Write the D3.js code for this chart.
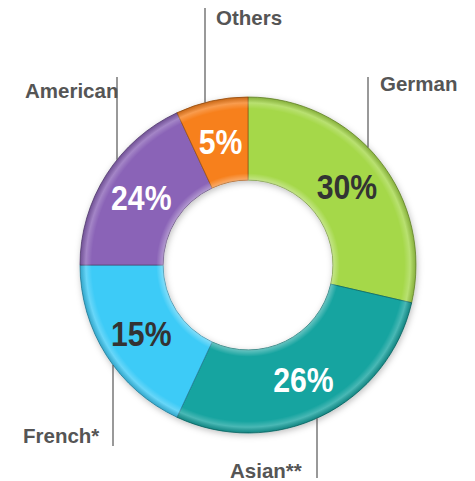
<!DOCTYPE html>
<html>
<head>
<meta charset="utf-8">
<script src="https://cdn.jsdelivr.net/npm/d3@7"></script>
<style>
  html, body { margin: 0; padding: 0; background: #fff; }
  svg { display: block; }
  .pct { font-family: "Liberation Sans", Arial, sans-serif; font-weight: bold; font-size: 36px; }
  .cat { font-family: "Liberation Sans", Arial, sans-serif; font-weight: bold; font-size: 20.5px; fill: #555; }
</style>
</head>
<body>
<svg id="chart" width="475" height="481"></svg>
<script>
const width = 475;
const height = 481;

// categories, clockwise from 12 o'clock
const categories = ["German", "Asian**", "French*", "American", "Others"];
// percentages printed on the slices
const percents = [30, 26, 15, 24, 5];
// slice sizes as drawn in the picture (degrees of the ring)
const drawnSpan = [103, 102, 65, 65, 25];
const colors = ["#a5d84a", "#14a4a0", "#3dcbf7", "#8a64b7", "#f7801c"];
const textColors = ["#333", "#fff", "#333", "#fff", "#fff"];

const center = { x: 248, y: 265 };
const outerR = 168;
const innerR = 85;

let svg = d3.select("svg#chart");

/* DEFS: shadow + bevel */
const defs = svg.append("defs");
const shadow = defs.append("filter").attr("id", "shadow")
  .attr("x", "-20%").attr("y", "-20%").attr("width", "140%").attr("height", "140%");
shadow.append("feDropShadow")
  .attr("dx", 1).attr("dy", 2).attr("stdDeviation", 3)
  .attr("flood-color", "#000").attr("flood-opacity", 0.25);

const bevel = defs.append("radialGradient").attr("id", "bevel")
  .attr("gradientUnits", "userSpaceOnUse")
  .attr("cx", 0).attr("cy", 0).attr("r", outerR);
[[innerR / outerR, "#fff", 0.35], [innerR / outerR + 0.04, "#fff", 0.0],
 [0.93, "#fff", 0.0], [0.965, "#fff", 0.22], [1.0, "#000", 0.18]].forEach(s => {
  bevel.append("stop").attr("offset", s[0]).attr("stop-color", s[1]).attr("stop-opacity", s[2]);
});

const plot = svg.append("g").attr("id", "plot")
  .attr("transform", translate(center.x, center.y));

const pie = d3.pie()
  .sort(null)
  .value(d => d.span)
  .startAngle(0)
  .endAngle(2 * Math.PI);

const arc = d3.arc().innerRadius(innerR).outerRadius(outerR);

const data = categories.map((c, i) => ({
  name: c, pct: percents[i], span: drawnSpan[i], color: colors[i], text: textColors[i]
}));
const arcs = pie(data);

const ring = plot.append("g").attr("filter", "url(#shadow)");
ring.selectAll("path.slice")
  .data(arcs)
  .enter()
  .append("path")
    .attr("class", "slice")
    .attr("d", arc)
    .style("fill", d => d.data.color)
    .style("stroke", d => d3.color(d.data.color).darker(1.2))
    .style("stroke-width", 0.8);

plot.selectAll("path.shine")
  .data(arcs)
  .enter()
  .append("path")
    .attr("class", "shine")
    .attr("d", arc)
    .style("fill", "url(#bevel)")
    .style("pointer-events", "none");

// narrow bold figures: squeeze horizontally
plot.selectAll("text.pct")
  .data(arcs)
  .enter()
  .append("text")
    .attr("class", "pct")
    .attr("transform", d => translate(arc.centroid(d)[0], arc.centroid(d)[1]) + " scale(0.84,1)")
    .attr("text-anchor", "middle")
    .attr("dy", "0.36em")
    .style("fill", d => d.data.text)
    .text(d => d.data.pct + "%");

/* LEADER LINES AND LABELS */
// x of each vertical leader, where its far end stops, and where the label sits
const leaders = {
  "German":   { x: 368, end: 77,  lx: 380, ly: 91,  side: -1 },
  "Asian**":  { x: 317, end: 478, lx: 230, ly: 478, side: 1 },
  "French*":  { x: 113, end: 446, lx: 23,  ly: 443, side: 1 },
  "American": { x: 117, end: 77,  lx: 25,  ly: 98,  side: -1 },
  "Others":   { x: 205, end: 8,   lx: 216, ly: 25,  side: -1 }
};

const labelGroup = svg.append("g").attr("id", "labels");

arcs.forEach(d => {
  const L = leaders[d.data.name];
  const dx = L.x - center.x;
  const ringY = center.y + L.side * Math.sqrt(outerR * outerR - dx * dx);
  labelGroup.append("line")
    .attr("x1", L.x).attr("x2", L.x)
    .attr("y1", L.end).attr("y2", ringY)
    .style("stroke", "#555")
    .style("stroke-width", 1.2);
  labelGroup.append("text")
    .attr("class", "cat")
    .attr("x", L.lx)
    .attr("y", L.ly)
    .text(d.data.name);
});

function translate(x, y) {
  return 'translate(' + String(x) + ',' + String(y) + ')';
}
</script>
</body>
</html>
